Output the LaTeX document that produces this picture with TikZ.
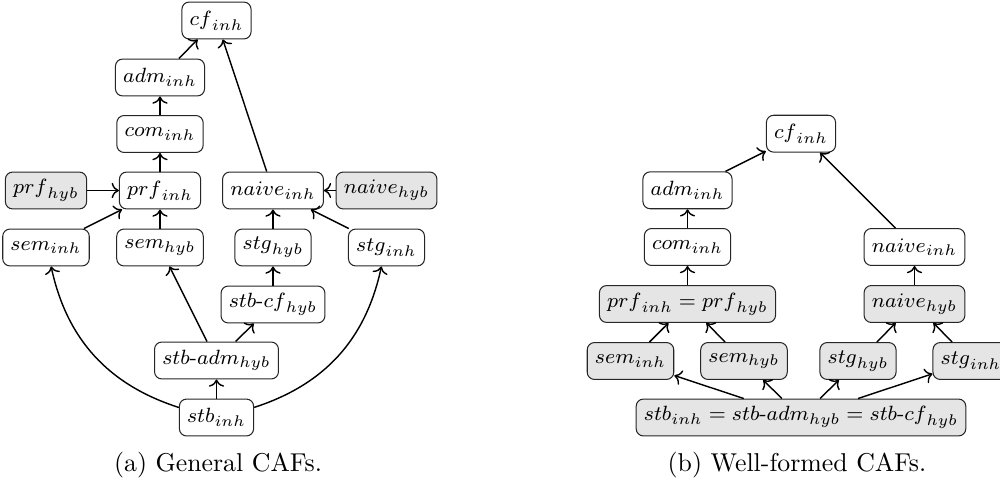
\documentclass[tikz,border=0pt]{standalone}
\usepackage{amsmath}
\usetikzlibrary{arrows.meta}
\begin{document}
\begin{tikzpicture}[x=0.3876pt, y=-0.3876pt,
  sem/.style={draw=black!85, line width=0.4pt, rounded corners=2.8pt, fill=white,
    inner xsep=3pt, inner ysep=2pt, minimum height=14.3pt, font=\footnotesize},
  hyb/.style={sem, fill=gray!20},
  edge/.style={->, line width=0.55pt},
  captext/.style={font=\normalsize, inner sep=0pt}]
\useasboundingbox (0,0) rectangle (1000,489);

% ---------- (a) general CAFs ----------
\node[sem] (a-cf)   at (216.5, 20.5)  {${cf}_{inh}$};
\node[sem] (a-adm)  at (160, 77.5)    {${adm}_{inh}$};
\node[sem] (a-com)  at (160, 134)     {${com}_{inh}$};
\node[hyb] (a-prfh) at (46, 190.5)    {${prf}_{hyb}$};
\node[sem] (a-prfi) at (160, 190.5)   {${prf}_{inh}$};
\node[sem] (a-naii) at (273, 190.5)   {${naive}_{inh}$};
\node[hyb] (a-naih) at (386.5, 190.5) {${naive}_{hyb}$};
\node[sem] (a-semi) at (46, 247.5)    {${sem}_{inh}$};
\node[sem] (a-semh) at (160, 247.5)   {${sem}_{hyb}$};
\node[sem] (a-stgh) at (273, 247.5)   {${stg}_{hyb}$};
\node[sem] (a-stgi) at (386.5, 247.5) {${stg}_{inh}$};
\node[sem] (a-scf)  at (273, 304.5)   {${stb\text{-}cf}_{hyb}$};
\node[sem] (a-sadm) at (216.5, 360.5) {${stb\text{-}adm}_{hyb}$};
\node[sem] (a-stb)  at (216.5, 417.5) {${stb}_{inh}$};

\draw[edge] (a-adm)  -- (a-cf);
\draw[edge] (a-com)  -- (a-adm);
\draw[edge] (a-prfi) -- (a-com);
\draw[edge] (a-prfh) -- (a-prfi);
\draw[edge] (a-semi) -- (a-prfi);
\draw[edge] (a-semh) -- (a-prfi);
\draw[edge] (a-naii) -- (a-cf);
\draw[edge] (a-naih) -- (a-naii);
\draw[edge] (a-stgh) -- (a-naii);
\draw[edge] (a-stgi) -- (a-naii);
\draw[edge] (a-scf)  -- (a-stgh);
\draw[edge] (a-sadm) -- (a-scf);
\draw[edge] (a-sadm) -- (a-semh);
\draw[edge] (a-stb)  -- (a-sadm);
\draw[edge] (a-stb) to[bend left=30]  (a-semi);
\draw[edge] (a-stb) to[bend right=30] (a-stgi);

\node[captext] (capa) at (218, 465) {(a) General CAFs.};

% ---------- (b) well-formed CAFs ----------
\node[sem] (b-cf)   at (801, 133.7)   {${cf}_{inh}$};
\node[sem] (b-adm)  at (687.5, 190.3) {${adm}_{inh}$};
\node[sem] (b-com)  at (687.5, 247)   {${com}_{inh}$};
\node[sem] (b-naii) at (914.5, 247)   {${naive}_{inh}$};
\node[hyb] (b-prf)  at (687.5, 304)   {${prf}_{inh} = {prf}_{hyb}$};
\node[hyb] (b-naih) at (914.5, 304)   {${naive}_{hyb}$};
\node[hyb] (b-semi) at (630.5, 361)   {${sem}_{inh}$};
\node[hyb] (b-semh) at (744, 361)     {${sem}_{hyb}$};
\node[hyb] (b-stgh) at (858, 361)     {${stg}_{hyb}$};
\node[hyb] (b-stgi) at (971, 361)     {${stg}_{inh}$};
\node[hyb] (b-stb)  at (801, 417.5)   {${stb}_{inh} = {stb\text{-}adm}_{hyb} = {stb\text{-}cf}_{hyb}$};

\draw[edge] (b-adm)  -- (b-cf);
\draw[edge] (b-naii) -- (b-cf);
\draw[edge] (b-com)  -- (b-adm);
\draw[edge] (b-prf)  -- (b-com);
\draw[edge] (b-naih) -- (b-naii);
\draw[edge] (b-semi) -- (b-prf);
\draw[edge] (b-semh) -- (b-prf);
\draw[edge] (b-stgh) -- (b-naih);
\draw[edge] (b-stgi) -- (b-naih);
\draw[edge] (b-stb)  -- (b-semi);
\draw[edge] (b-stb)  -- (b-semh);
\draw[edge] (b-stb)  -- (b-stgh);
\draw[edge] (b-stb)  -- (b-stgi);

\node[captext] (capb) at (797, 465) {(b) Well-formed CAFs.};
\end{tikzpicture}
\end{document}
